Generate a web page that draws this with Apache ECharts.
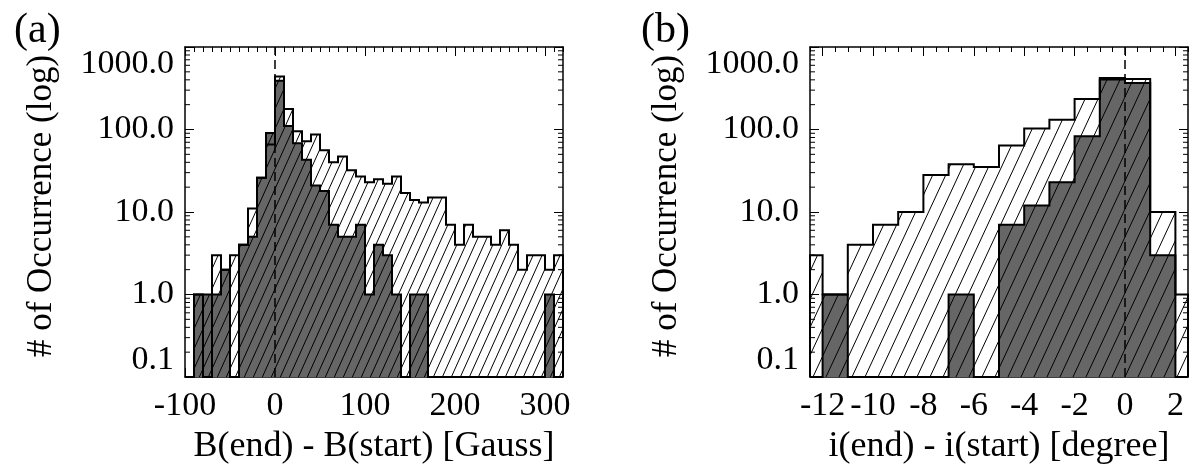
<!DOCTYPE html>
<html>
<head>
<meta charset="utf-8">
<title>B and i change histograms</title>
<script src="https://cdn.jsdelivr.net/npm/echarts@6/dist/echarts.min.js"></script>
<style>
  html, body { margin: 0; padding: 0; background: #fff; }
  #chart { width: 1191px; height: 470px; }
</style>
</head>
<body>
<div id="chart"></div>
<script>
// panel (a): lower bin edges [Gauss] and counts per bin
const binsA = [-100, -90, -80, -70, -60, -50, -40, -30, -20, -10,
  0, 10, 20, 30, 40, 50, 60, 70, 80, 90,
  100, 110, 120, 130, 140, 150, 160, 170, 180, 190,
  200, 210, 220, 230, 240, 250, 260, 270, 280, 290,
  300, 310];
const allA = [0, 1, 0, 3, 2, 3, 4, 11, 26, 66,
  440, 177, 95, 72, 87, 56, 40, 47, 32, 27,
  23, 25, 22, 27, 17, 14, 13, 15, 15, 7,
  4, 7, 5, 5, 4, 6, 4, 2, 3, 3,
  2, 3];
const darkA = [0, 1, 1, 1, 2, 0, 4, 5, 26, 91,
  390, 110, 68, 43, 21, 18, 7, 5, 5, 7,
  1, 4, 3, 1, 0, 1, 1, 0, 0, 0,
  0, 0, 0, 0, 0, 0, 0, 0, 0, 0,
  1, 0];

// panel (b): lower bin edges [degree] and counts per bin
const binsB = [-13, -12, -11, -10, -9, -8, -7, -6, -5, -4, -3, -2, -1, 0, 1, 2];
const allB = [3, 1, 4, 7, 10, 28, 38, 35, 64, 103, 131, 234, 420, 410, 10, 1];
const darkB = [0, 1, 0, 0, 0, 0, 1, 0, 7, 12, 23, 83, 405, 365, 3, 0];

const xTicksA = [-100, 0, 100, 200, 300];
const xTicksB = [-12, -10, -8, -6, -4, -2, 0, 2];
const yMinorTicks = [0.2, 0.3, 0.4, 0.5, 0.6, 0.7, 0.8, 0.9,
  2, 3, 4, 5, 6, 7, 8, 9,
  20, 30, 40, 50, 60, 70, 80, 90,
  200, 300, 400, 500, 600, 700, 800, 900];

const FONT = "'Liberation Serif', 'Times New Roman', serif";
const Y_MIN = 0.1;

// line-fill tile: "/" strokes on a background colour
function makeHatch(bg, w, h) {
  const c = document.createElement("canvas");
  c.width = w;
  c.height = h;
  const ctx = c.getContext("2d");
  ctx.fillStyle = bg;
  ctx.fillRect(0, 0, w, h);
  ctx.strokeStyle = "#000";
  ctx.lineWidth = 1;
  for (const dx of [-w, 0, w]) {
    ctx.beginPath();
    ctx.moveTo(dx, h);
    ctx.lineTo(dx + w, 0);
    ctx.stroke();
  }
  return { image: c, repeat: "repeat" };
}

const panels = [
  {
    label: "(a)", labelLeft: 9, left: 185,
    xMin: -100, xMax: 320, binW: 10, xMinor: 10, xTicks: xTicksA,
    xName: "B(end) - B(start) [Gauss]",
    bins: binsA, all: allA, dark: darkA,
    hatch: makeHatch("#ffffff", 9, 20), hatchDark: makeHatch("#666666", 9, 20),
  },
  {
    label: "(b)", labelLeft: 636, left: 810,
    xMin: -12.5, xMax: 2.5, binW: 1, xMinor: 0.5, xTicks: xTicksB,
    xName: "i(end) - i(start) [degree]",
    bins: binsB, all: allB, dark: darkB,
    hatch: makeHatch("#ffffff", 13, 28), hatchDark: makeHatch("#666666", 13, 28),
  },
];

const axisLine = { show: true, onZero: false, lineStyle: { color: "#000", width: 1.5 } };
const tickLine = { color: "#000", width: 1 };
const textStyle = { fontFamily: FONT, color: "#000" };

// step outline of a histogram, closed down to the axis floor
function stepPoints(p, api, n) {
  const pts = [];
  let last = null;
  for (let i = 0; i < n; i++) {
    const lo = api.value(0, i);
    const hi = lo + p.binW;
    if (hi <= p.xMin || lo >= p.xMax) continue;
    const x0 = Math.max(lo, p.xMin);
    const x1 = Math.min(hi, p.xMax);
    const v = api.value(1, i) > 0 ? api.value(1, i) : Y_MIN;
    if (!pts.length) pts.push(api.coord([x0, Y_MIN]));
    pts.push(api.coord([x0, v]), api.coord([x1, v]));
    last = x1;
  }
  pts.push(api.coord([last, Y_MIN]));
  return pts;
}

function histSeries(p, gi, values, opts) {
  return {
    type: "custom",
    xAxisIndex: gi * 4,
    yAxisIndex: gi * 2,
    z: opts.z || 2,
    silent: true,
    data: p.bins.map((b, i) => [b, values[i]]),
    renderItem: (params, api) => {
      if (params.dataIndex !== 0) return null;
      const pts = stepPoints(p, api, params.dataInsideLength);
      const children = [];
      if (opts.fill) {
        children.push({ type: "polygon", shape: { points: pts }, style: { fill: opts.fill, stroke: null } });
      }
      if (opts.stroke) {
        children.push({
          type: "polyline", shape: { points: pts },
          style: { fill: null, stroke: "#000", lineWidth: 2, lineJoin: "miter" },
        });
      }
      return { type: "group", children };
    },
    markLine: opts.zeroLine
      ? {
          silent: true,
          symbol: ["none", "none"],
          label: { show: false },
          lineStyle: { color: "#000", type: [9, 5], width: 1.5 },
          data: [{ xAxis: 0 }],
        }
      : undefined,
  };
}

function minorTickSeries(p, gi) {
  return {
    type: "custom",
    xAxisIndex: gi * 4,
    yAxisIndex: gi * 2,
    z: 6,
    silent: true,
    data: yMinorTicks.map((v) => [p.xMin, v]),
    renderItem: (params, api) => {
      const cs = params.coordSys;
      const y = api.coord([api.value(0), api.value(1)])[1];
      return {
        type: "group",
        children: [
          { type: "line", shape: { x1: cs.x, y1: y, x2: cs.x + 5, y2: y }, style: { stroke: "#000", lineWidth: 1 } },
          { type: "line", shape: { x1: cs.x + cs.width, y1: y, x2: cs.x + cs.width - 5, y2: y }, style: { stroke: "#000", lineWidth: 1 } },
        ],
      };
    },
  };
}

const xAxis = [];
const yAxis = [];
const series = [];

panels.forEach((p, gi) => {
  const base = { gridIndex: gi, type: "value", min: p.xMin, max: p.xMax, splitLine: { show: false } };
  xAxis.push(
    {
      ...base, position: "bottom",
      name: p.xName, nameLocation: "middle", nameGap: 52,
      nameTextStyle: { ...textStyle, fontSize: 36 },
      axisLine,
      axisTick: { inside: true, length: 9, lineStyle: tickLine, customValues: p.xTicks },
      axisLabel: { ...textStyle, fontSize: 34, margin: 12, customValues: p.xTicks },
    },
    {
      ...base, position: "top", axisLine,
      axisTick: { inside: true, length: 9, lineStyle: tickLine, customValues: p.xTicks },
      axisLabel: { show: false },
    },
    {
      ...base, position: "bottom", interval: p.xMinor, axisLine: { show: false },
      axisTick: { inside: true, length: 5, lineStyle: tickLine },
      axisLabel: { show: false },
    },
    {
      ...base, position: "top", interval: p.xMinor, axisLine: { show: false },
      axisTick: { inside: true, length: 5, lineStyle: tickLine },
      axisLabel: { show: false },
    }
  );

  const yBase = {
    gridIndex: gi, type: "log", logBase: 10, min: Y_MIN, max: 1000, z: 5,
    splitLine: { show: false }, axisLine,
    axisTick: { inside: true, length: 9, lineStyle: tickLine },
  };
  yAxis.push(
    {
      ...yBase, position: "left",
      name: "# of Occurrence (log)", nameLocation: "middle", nameGap: 126, nameRotate: 90,
      nameTextStyle: { ...textStyle, fontSize: 35, padding: [0, 0, 0, 12] },
      axisLabel: {
        ...textStyle, fontSize: 34, margin: 11,
        formatter: (v) => Number(v).toFixed(1),
        verticalAlignMinLabel: "bottom",
        verticalAlignMaxLabel: "top",
      },
    },
    { ...yBase, position: "right", axisLabel: { show: false } }
  );

  series.push(
    histSeries(p, gi, p.all, { fill: p.hatch }),
    histSeries(p, gi, p.dark, { fill: p.hatchDark, stroke: true }),
    histSeries(p, gi, p.all, { stroke: true, zeroLine: true, z: 3 }),
    minorTickSeries(p, gi)
  );
});

const option = {
  animation: false,
  backgroundColor: "#fff",
  title: panels.map((p) => ({
    text: p.label, left: p.labelLeft, top: 5,
    textStyle: { ...textStyle, fontSize: 42, fontWeight: "normal" },
  })),
  grid: panels.map((p) => ({ left: p.left, top: 47, width: 378, height: 332 })),
  xAxis,
  yAxis,
  series,
};

const myChart = echarts.init(document.getElementById("chart"), null, { renderer: "canvas" });
myChart.setOption(option);
window.addEventListener("resize", () => myChart.resize());
</script>
</body>
</html>
